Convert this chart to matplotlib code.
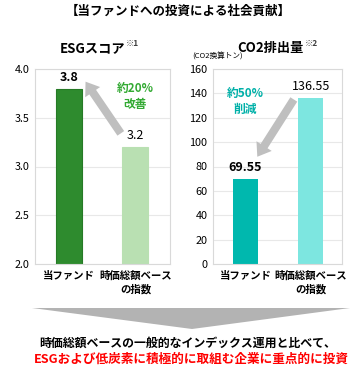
import matplotlib
matplotlib.use('Agg')
import matplotlib.pyplot as plt
from matplotlib.patches import Polygon

plt.rcParams['font.family'] = ['Noto Sans CJK JP', 'DejaVu Sans']

# data
categories = ['当ファンド', '時価総額ベース\nの指数']
esg_values = [3.8, 3.2]
co2_values = [69.55, 136.55]
esg_labels = ['3.8', '3.2']
co2_labels = ['69.55', '136.55']

W, H = 359, 368
fig = plt.figure(figsize=(W / 100, H / 100), dpi=100)


def px_axes(x0, y0, x1, y1):
    # pixel box (top-left origin) -> figure axes
    return fig.add_axes([x0 / W, 1 - y1 / H, (x1 - x0) / W, (y1 - y0) / H])


def style_axes(ax):
    for s in ax.spines.values():
        s.set_color('#d9d9d9')
        s.set_linewidth(0.8)
    ax.grid(axis='y', color='#e8e8e8', linewidth=0.8)
    ax.set_axisbelow(True)
    ax.tick_params(length=0, labelsize=7.8, pad=4)
    ax.tick_params(axis='x', pad=5)
    ax.set_xticks([0, 1])
    ax.set_xticklabels(categories, fontsize=7.5, fontweight='bold', linespacing=1.4)
    for lab in ax.get_xticklabels():
        lab.set_verticalalignment('top')


arrow_kw = dict(arrowstyle='simple,head_length=0.7,head_width=1.0,tail_width=0.45',
                fc='#bfbfbf', ec='none', mutation_scale=13, shrinkA=0, shrinkB=0)

# ESG score
ax1 = px_axes(35, 69, 170, 264)
ax1.bar([0, 1], esg_values, width=0.39, color=['#2e8b2e', '#b9e0b2'],
        edgecolor=['#267a26', '#b9e0b2'], linewidth=0.8)
ax1.set_ylim(2.0, 4.0)
ax1.set_yticks([2.0, 2.5, 3.0, 3.5, 4.0])
ax1.set_yticklabels(['2.0', '2.5', '3.0', '3.5', '4.0'])
ax1.set_xlim(-0.51, 1.52)
style_axes(ax1)
ax1.text(0, esg_values[0] + 0.05, esg_labels[0], ha='center', va='bottom',
         fontsize=9, fontweight='bold')
ax1.text(1, esg_values[1] + 0.05, esg_labels[1], ha='center', va='bottom', fontsize=9)
ax1.annotate('', xy=(0.25, 3.87), xytext=(0.78, 3.34), arrowprops=arrow_kw)
ax1.text(1.0, 3.72, '約20%\n改善', ha='center', va='center', fontsize=8.5,
         fontweight='bold', color='#33aa33', linespacing=1.3)

# CO2
ax2 = px_axes(213, 69, 342, 264)
ax2.bar([0, 1], co2_values, width=0.385, color=['#00b8ae', '#7de6e0'], linewidth=0)
ax2.set_ylim(0, 160)
ax2.set_yticks(range(0, 161, 20))
ax2.set_xlim(-0.5, 1.48)
style_axes(ax2)
ax2.text(0, co2_values[0] + 4, co2_labels[0], ha='center', va='bottom',
         fontsize=9, fontweight='bold')
ax2.text(1, co2_values[1] + 4, co2_labels[1], ha='center', va='bottom', fontsize=9)
ax2.annotate('', xy=(0.18, 88), xytext=(0.74, 135), arrowprops=arrow_kw)
ax2.text(0.0, 133, '約50%\n削減', ha='center', va='center', fontsize=8.5,
         fontweight='bold', color='#00b0a8', linespacing=1.3)

# titles
fig.text(178 / W, 1 - 11 / H, '【当ファンドへの投資による社会貢献】', ha='center', va='center',
         fontsize=9, fontweight='bold')
fig.text(125 / W, 1 - 48 / H, 'ESGスコア', ha='right', va='center', fontsize=9.5, fontweight='bold')
fig.text(126 / W, 1 - 43 / H, '※1', ha='left', va='center', fontsize=6, fontweight='bold',
         color='#404040')
fig.text(304 / W, 1 - 48 / H, 'CO2排出量', ha='right', va='center', fontsize=9.5, fontweight='bold')
fig.text(305 / W, 1 - 43 / H, '※2', ha='left', va='center', fontsize=6, fontweight='bold',
         color='#404040')
fig.text(192 / W, 1 - 57 / H, '(CO2換算トン)', ha='left', va='center', fontsize=5.5)

# down chevron
tri = Polygon([(32 / W, 1 - 308 / H), (350 / W, 1 - 308 / H), (192 / W, 1 - 329 / H)],
              closed=True, transform=fig.transFigure, fc='#b3b3b3', ec='none')
fig.patches.append(tri)

fig.text(188 / W, 1 - 343 / H, '時価総額ベースの一般的なインデックス運用と比べて、',
         ha='center', va='center', fontsize=8.6, fontweight='bold')
fig.text(191 / W, 1 - 359 / H, 'ESGおよび低炭素に積極的に取組む企業に重点的に投資',
         ha='center', va='center', fontsize=9.1, fontweight='bold', color='#ff0000')

fig.savefig('out.png', dpi=100)
